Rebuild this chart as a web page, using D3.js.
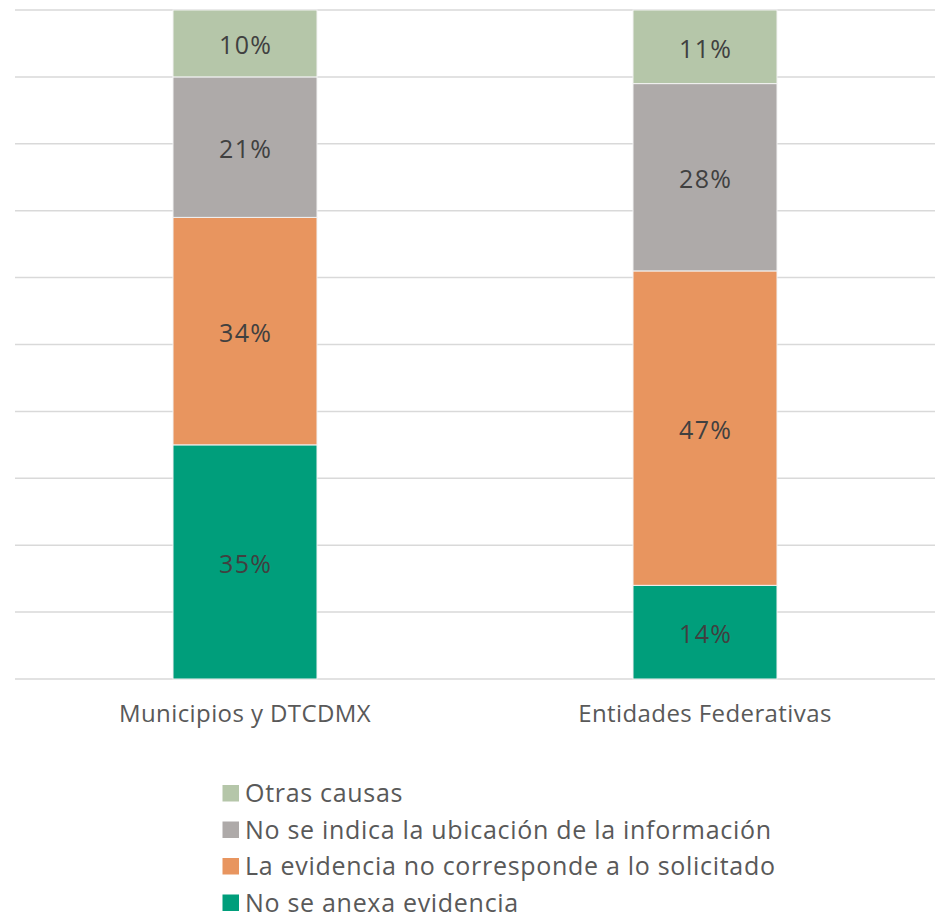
<!DOCTYPE html>
<html><head><meta charset="utf-8">
<script src="https://cdn.jsdelivr.net/npm/d3@7"></script>
<style>body{margin:0;background:#fff}svg{display:block}</style>
</head><body>
<script>
const categories = ["Municipios y DTCDMX", "Entidades Federativas"];
const seriesNames = ["No se anexa evidencia", "La evidencia no corresponde a lo solicitado", "No se indica la ubicación de la información", "Otras causas"];
const noAnexa = [35, 14];
const noCorresponde = [34, 47];
const noUbicacion = [21, 28];
const otras = [10, 11];
const yTicks = [0,10,20,30,40,50,60,70,80,90,100];
const colors = ["#009E7B", "#E8955F", "#AEAAA9", "#B5C6A9"];

const W = 938, H = 919;
const svg = d3.select("body").append("svg").attr("width", W).attr("height", H);
const font = "'Open Sans', sans-serif";

const x = d3.scaleBand().domain(categories).range([15, 935]).paddingInner(0.687).paddingOuter(0.3435);
const y = d3.scaleLinear().domain([0, 100]).range([679, 10]);

svg.append("g").selectAll("line").data(yTicks).join("line")
  .attr("x1", 15).attr("x2", 935)
  .attr("y1", d => y(d)).attr("y2", d => y(d))
  .attr("stroke", "#d9d9d9").attr("stroke-width", 1.5);

const seriesVals = [noAnexa, noCorresponde, noUbicacion, otras];
const rows = categories.map((c, i) => {
  const o = {cat: c};
  seriesNames.forEach((s, j) => o[s] = seriesVals[j][i]);
  return o;
});
const stack = d3.stack().keys(seriesNames)(rows);

stack.forEach((layer, j) => {
  const g = svg.append("g");
  g.selectAll("rect").data(layer).join("rect")
    .attr("x", d => x(d.data.cat))
    .attr("width", x.bandwidth())
    .attr("y", d => y(d[1]))
    .attr("height", d => y(d[0]) - y(d[1]))
    .attr("fill", colors[j])
    .attr("stroke", "#f2f2f2").attr("stroke-width", 1);
  g.selectAll("text").data(layer).join("text")
    .attr("x", d => x(d.data.cat) + x.bandwidth() / 2 + 0.7)
    .attr("y", d => (y(d[0]) + y(d[1])) / 2 + 11)
    .attr("text-anchor", "middle")
    .attr("font-family", font).attr("font-size", 25)
    .attr("letter-spacing", 1.4)
    .attr("fill", "#404040")
    .text(d => (d[1] - d[0]) + "%");
});

svg.append("g").selectAll("text").data(categories).join("text")
  .attr("x", d => x(d) + x.bandwidth() / 2)
  .attr("y", 722)
  .attr("text-anchor", "middle")
  .attr("font-family", font).attr("font-size", 24)
  .attr("letter-spacing", 0.4)
  .attr("fill", "#595959")
  .text(d => d);

const legendOrder = [3, 2, 1, 0];
const lg = svg.append("g");
legendOrder.forEach((j, k) => {
  const base = 802 + k * 36.5;
  lg.append("rect").attr("x", 222.5).attr("y", base - 17).attr("width", 16.5).attr("height", 16.5).attr("fill", colors[j]);
  lg.append("text").attr("x", 245).attr("y", base)
    .attr("font-family", font).attr("font-size", 25)
    .attr("letter-spacing", 0.7)
    .attr("fill", "#595959").text(seriesNames[j]);
});
</script>
</body></html>
